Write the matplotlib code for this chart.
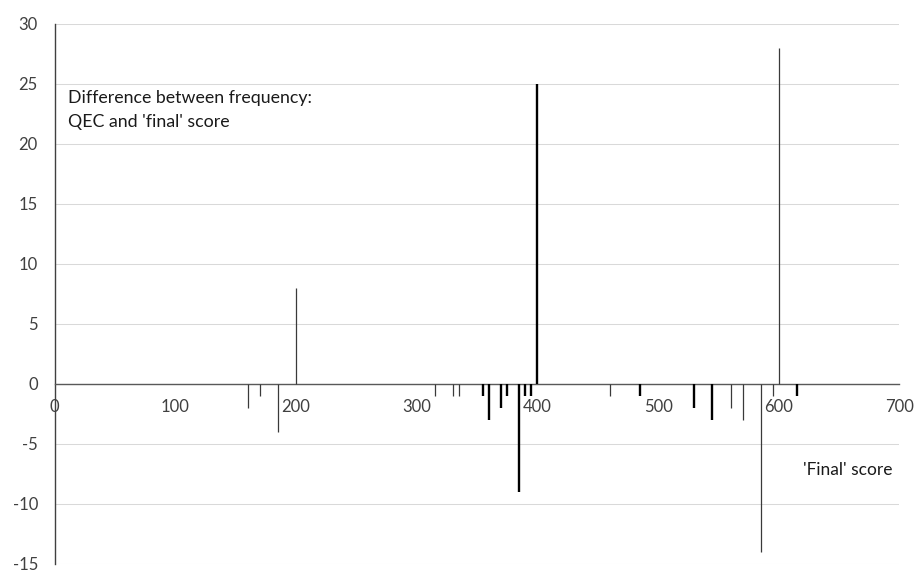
import matplotlib
matplotlib.use("Agg")
import matplotlib.pyplot as plt

scores = [160, 170, 185, 200, 315, 330, 335, 355, 360, 370, 375, 385, 390,
          395, 400, 460, 485, 530, 545, 560, 570, 585, 595, 600, 615]
differences = [-2, -1, -4, 8, -1, -1, -1, -1, -3, -2, -1, -9, -1,
               -1, 25, -1, -1, -2, -3, -2, -3, -14, -1, 28, -1]
x_ticks = [0, 100, 200, 300, 400, 500, 600, 700]
y_ticks = [-15, -10, -5, 0, 5, 10, 15, 20, 25, 30]
title_lines = ["Difference between frequency:", "QEC and 'final' score"]
x_title = "'Final' score"

heavy = {355, 360, 370, 375, 385, 390, 395, 400, 485, 530, 545, 615}

plt.rcParams['font.family'] = ['Lato', 'DejaVu Sans']

fig = plt.figure(figsize=(9.19, 5.78), dpi=100)
ax = fig.add_axes([54.6 / 919, 1 - 564 / 578, (899.5 - 54.6) / 919, (564 - 24) / 578])

ax.set_xlim(0, 700)
ax.set_ylim(-15, 30)

for s, d in zip(scores, differences):
    if s in heavy:
        ax.vlines(s, 0, d, color='#000000', linewidth=1.7, zorder=3)
    else:
        ax.vlines(s, 0, d, color='#3a3a3a', linewidth=0.9, zorder=3)

ax.set_yticks(y_ticks)
ax.set_xticks(x_ticks)
ax.set_yticklabels([str(v) for v in y_ticks])
ax.set_xticklabels([str(v) for v in x_ticks])
ax.yaxis.grid(True, color='#d9d9d9', linewidth=0.75)
ax.set_axisbelow(True)

for sp in ['top', 'right']:
    ax.spines[sp].set_visible(False)
ax.spines['bottom'].set_position(('data', 0))
ax.spines['bottom'].set_color('#595959')
ax.spines['bottom'].set_linewidth(1.0)
ax.spines['left'].set_color('#404040')
ax.spines['left'].set_linewidth(1.0)

ax.tick_params(axis='both', length=0, labelsize=12, labelcolor='#404040')
ax.tick_params(axis='x', pad=11)
ax.tick_params(axis='y', pad=12)

for i, line in enumerate(title_lines):
    ax.text(68 / 919, 1 - (98 + 24 * i) / 578, line, transform=fig.transFigure,
            fontsize=12.8, color='#1a1a1a', va='center', ha='left')
ax.text(848 / 919, 1 - 470 / 578, x_title, transform=fig.transFigure,
        fontsize=12.5, color='#1a1a1a', va='center', ha='center')

fig.savefig("out.png", dpi=100)
